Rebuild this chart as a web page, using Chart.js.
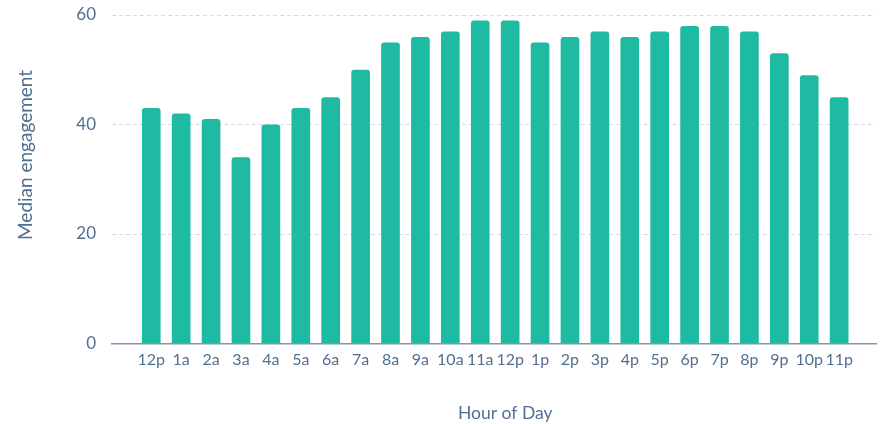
<!DOCTYPE html>
<html>
<head>
<meta charset="utf-8">
<script src="https://cdn.jsdelivr.net/npm/chart.js@4.4.1/dist/chart.umd.min.js"></script>
<style>
  html, body { margin: 0; padding: 0; background: #fff; }
  #wrap { width: 881px; height: 424px; }
</style>
</head>
<body>
<div id="wrap"><canvas id="chart"></canvas></div>
<script>
// Data
const hours = ['12p', '1a', '2a', '3a', '4a', '5a', '6a', '7a', '8a', '9a', '10a', '11a',
               '12p', '1p', '2p', '3p', '4p', '5p', '6p', '7p', '8p', '9p', '10p', '11p'];
const engagement = [43, 42, 41, 34, 40, 43, 45, 50, 55, 56, 57, 59,
                    59, 55, 56, 57, 56, 57, 58, 58, 57, 53, 49, 45];
const yTicks = [0, 20, 40, 60];

const textColor = '#516f90';

// titles sit off-centre in the original, so pad them with leading spaces
const pad = n => '\u00a0'.repeat(n);

new Chart(document.getElementById('chart').getContext('2d'), {
  type: 'bar',
  data: {
    datasets: [{
      label: 'Median engagement',
      data: engagement.map((v, i) => ({x: i, y: v})),
      backgroundColor: '#1fbaa2',
      borderWidth: 0,
      borderRadius: {topLeft: 3, topRight: 3},
      borderSkipped: 'bottom',
      categoryPercentage: 1,
      barPercentage: 0.625
    }]
  },
  options: {
    responsive: true,
    maintainAspectRatio: false,
    animation: false,
    layout: {padding: {top: 0, right: 5, left: 0, bottom: 0}},
    plugins: {
      legend: {display: false},
      tooltip: {enabled: false}
    },
    scales: {
      x: {
        type: 'linear',
        min: -0.78,
        max: 23.7,
        afterFit: s => { s.height = 80.5; },
        grid: {display: false, drawTicks: false},
        border: {display: true, color: '#7c98b6', width: 1.5},
        ticks: {
          stepSize: 1,
          includeBounds: false,
          autoSkip: false,
          maxRotation: 0,
          padding: 7,
          color: textColor,
          font: {family: 'Lato', size: 16},
          callback: v => Number.isInteger(v) ? hours[v] : ''
        },
        title: {
          display: true,
          text: pad(5) + 'Hour of Day',
          color: textColor,
          font: {family: 'Lato', size: 17.5},
          padding: {top: 0, bottom: 0}
        }
      },
      y: {
        min: 0,
        max: 60,
        afterFit: s => { s.width = 112; s.paddingTop = 15; },
        afterBuildTicks: s => { s.ticks = yTicks.map(v => ({value: v})); },
        grid: {
          color: c => c.tick && c.tick.value === 0 ? 'rgba(0,0,0,0)' : '#d6dde6',
          lineWidth: 1,
          drawTicks: false
        },
        border: {display: false, dash: [4, 3]},
        ticks: {
          padding: 16,
          color: textColor,
          font: {family: 'Lato', size: 17}
        },
        title: {
          display: true,
          text: pad(10) + 'Median engagement',
          color: textColor,
          font: {family: 'Lato', size: 19},
          padding: {top: 14, bottom: 0}
        }
      }
    }
  }
});
</script>
</body>
</html>
